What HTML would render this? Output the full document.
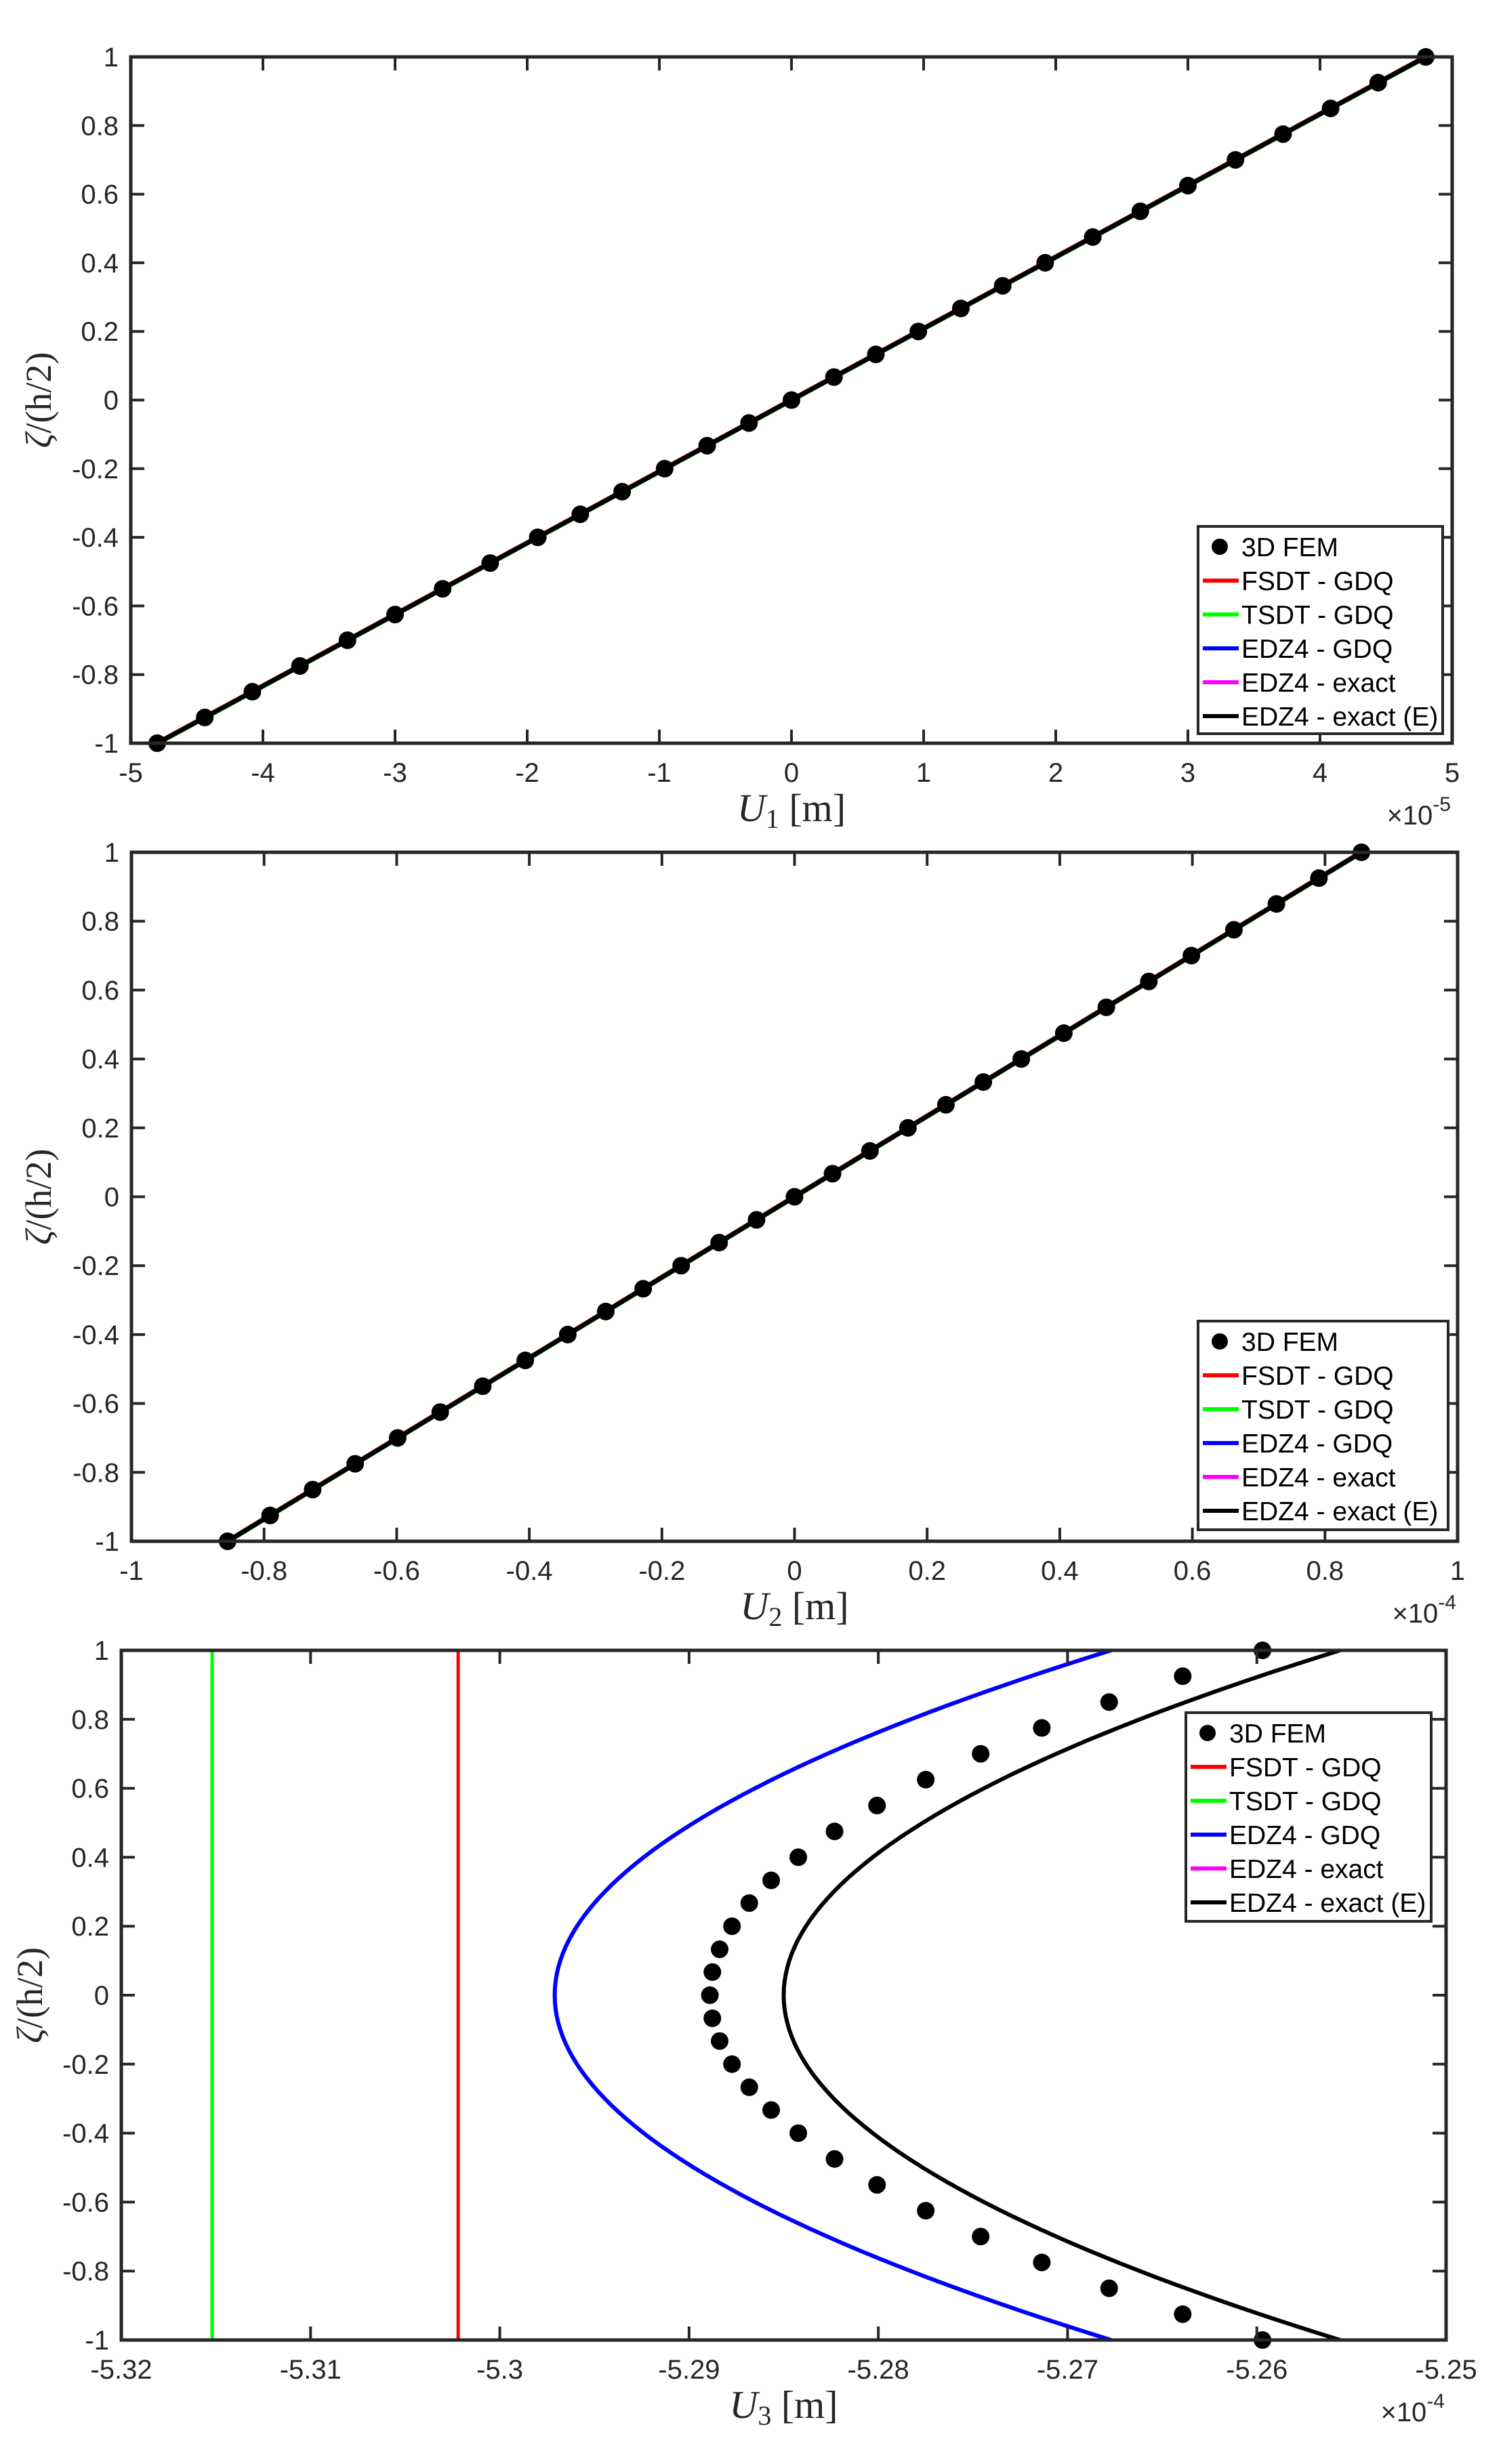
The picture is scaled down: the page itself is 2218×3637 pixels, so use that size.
<!DOCTYPE html>
<html><head><meta charset="utf-8">
<style>html,body{margin:0;padding:0;background:#fff;}svg{display:block;}</style>
</head><body>
<svg id="s" xmlns="http://www.w3.org/2000/svg" width="2218" height="3637" viewBox="0 0 2218 3637"></svg>
<script>
const S=document.getElementById('s');let out='';
function ln(x1,y1,x2,y2,c,w){out+=`<line x1="${x1}" y1="${y1}" x2="${x2}" y2="${y2}" stroke="${c}" stroke-width="${w}"/>`;}
function tx(x,y,t,a,sz,extra){out+=`<text x="${x}" y="${y}" text-anchor="${a}" font-family="Liberation Sans, sans-serif" font-size="${sz}" fill="#262626" ${extra||''}>${t}</text>`;}
function pl(pts,c,w){out+=`<polyline points="${pts.map(p=>p[0].toFixed(1)+','+p[1].toFixed(1)).join(' ')}" fill="none" stroke="${c}" stroke-width="${w}" stroke-linejoin="round"/>`;}
const zs=[1,.925,.85,.775,.7,.625,.55,.475,.4,.333,.267,.2,.133,.067,0];
const Z=[];zs.forEach(z=>Z.push(z));zs.slice(0,14).reverse().forEach(z=>Z.push(-z));
function plot(P){
 const {L,R,T,B,xmin,xmax,xt,xl,ylx,xlab,sub,exp,leg}=P;
 const X=v=>L+(v-xmin)/(xmax-xmin)*(R-L), Y=v=>B-(v+1)/2*(B-T);
 P.draw(X,Y);
 out+=`<rect x="${L}" y="${T}" width="${R-L}" height="${B-T}" fill="none" stroke="#262626" stroke-width="5"/>`;
 xt.forEach((v,i)=>{const x=X(v);ln(x,B,x,B-20,'#262626',4);ln(x,T,x,T+20,'#262626',4);tx(x,B+57,xl[i],'middle',40);});
 for(let k=0;k<=10;k++){const v=-1+k*0.2,y=Y(v);ln(L,y,L+20,y,'#262626',4);ln(R,y,R-20,y,'#262626',4);
  let s=Math.abs(v)<1e-9?'0':(Math.round(v*10)/10).toString();tx(L-18,y+14,s,'end',40);}
 out+=`<text transform="translate(${ylx},${(T+B)/2}) rotate(-90)" text-anchor="middle" font-family="Liberation Serif, serif" font-size="54" fill="#262626"><tspan font-style="italic">ζ</tspan>/(h/2)</text>`;
 out+=`<text x="${(L+R)/2}" y="${B+115}" text-anchor="middle" font-family="Liberation Serif, serif" font-size="58" fill="#262626"><tspan font-style="italic">U</tspan><tspan font-size="40" dy="10">${sub}</tspan><tspan dy="-10"> [m]</tspan></text>`;
 out+=`<text x="${R-2}" y="${B+120}" text-anchor="end" font-family="Liberation Sans, sans-serif" font-size="40" fill="#262626">×10<tspan font-size="30" dy="-20">${exp}</tspan></text>`;
 const [lx,ly,lw,lh]=leg;
 out+=`<rect x="${lx}" y="${ly}" width="${lw}" height="${lh}" fill="#fff" stroke="#262626" stroke-width="4"/>`;
 const names=['3D FEM','FSDT - GDQ','TSDT - GDQ','EDZ4 - GDQ','EDZ4 - exact','EDZ4 - exact (E)'];
 const cols=[null,'#ff0000','#00ff00','#0000ff','#ff00ff','#000000'];
 names.forEach((n,i)=>{const y=ly+30+i*50;
  if(i==0)out+=`<circle cx="${lx+32}" cy="${y}" r="12" fill="#000"/>`;else ln(lx+7,y,lx+60,y,cols[i],6);
  out+=`<text x="${lx+64}" y="${y+14}" font-family="Liberation Sans, sans-serif" font-size="39" fill="#000">${n}</text>`;});
}
function linear(amax){return (X,Y)=>{
 pl([[X(-amax*1.003),Y(-1)],[X(amax*0.997),Y(1)]],'#ff0000',5);
 pl([[X(-amax*0.997),Y(-1)],[X(amax*1.003),Y(1)]],'#00ff00',5);
 pl([[X(-amax),Y(-1)],[X(amax),Y(1)]],'#0000ff',5);
 pl([[X(-amax),Y(-1)],[X(amax),Y(1)]],'#000',7);
 Z.forEach(z=>{out+=`<circle cx="${X(amax*z)}" cy="${Y(z)}" r="13" fill="#000"/>`;});
};}
plot({L:193,R:2143,T:84,B:1097,xmin:-5,xmax:5,xt:[-5,-4,-3,-2,-1,0,1,2,3,4,5],xl:['-5','-4','-3','-2','-1','0','1','2','3','4','5'],ylx:75,sub:'1',exp:'-5',leg:[1768,777,361,306],draw:linear(4.8)});
plot({L:194,R:2151,T:1258,B:2275,xmin:-1,xmax:1,xt:[-1,-.8,-.6,-.4,-.2,0,.2,.4,.6,.8,1],xl:['-1','-0.8','-0.6','-0.4','-0.2','0','0.2','0.4','0.6','0.8','1'],ylx:75,sub:'2',exp:'-4',leg:[1768,1950,369,308],draw:linear(0.855)});
plot({L:179,R:2134,T:2436,B:3454,xmin:-5.32,xmax:-5.25,xt:[-5.32,-5.31,-5.3,-5.29,-5.28,-5.27,-5.26,-5.25],xl:['-5.32','-5.31','-5.3','-5.29','-5.28','-5.27','-5.26','-5.25'],ylx:62,sub:'3',exp:'-4',leg:[1750,2528,362,308],draw:(X,Y)=>{
 ln(X(-5.3152),Y(-1),X(-5.3152),Y(1),'#00ff00',5);
 ln(X(-5.3022),Y(-1),X(-5.3022),Y(1),'#ff0000',5);
 const par=(a,b)=>{const p=[];for(let i=0;i<=100;i++){const z=-1+i/50;p.push([X(a+(b-a)*z*z),Y(z)]);}return p;};
 pl(par(-5.2971,-5.2677),'#0000ff',6);
 pl(par(-5.2850,-5.2556),'#000',6);
 Z.forEach(z=>{out+=`<circle cx="${X(-5.2889+0.0292*z*z)}" cy="${Y(z)}" r="13" fill="#000"/>`;});
}});
S.innerHTML=out;
</script>
</body></html>
